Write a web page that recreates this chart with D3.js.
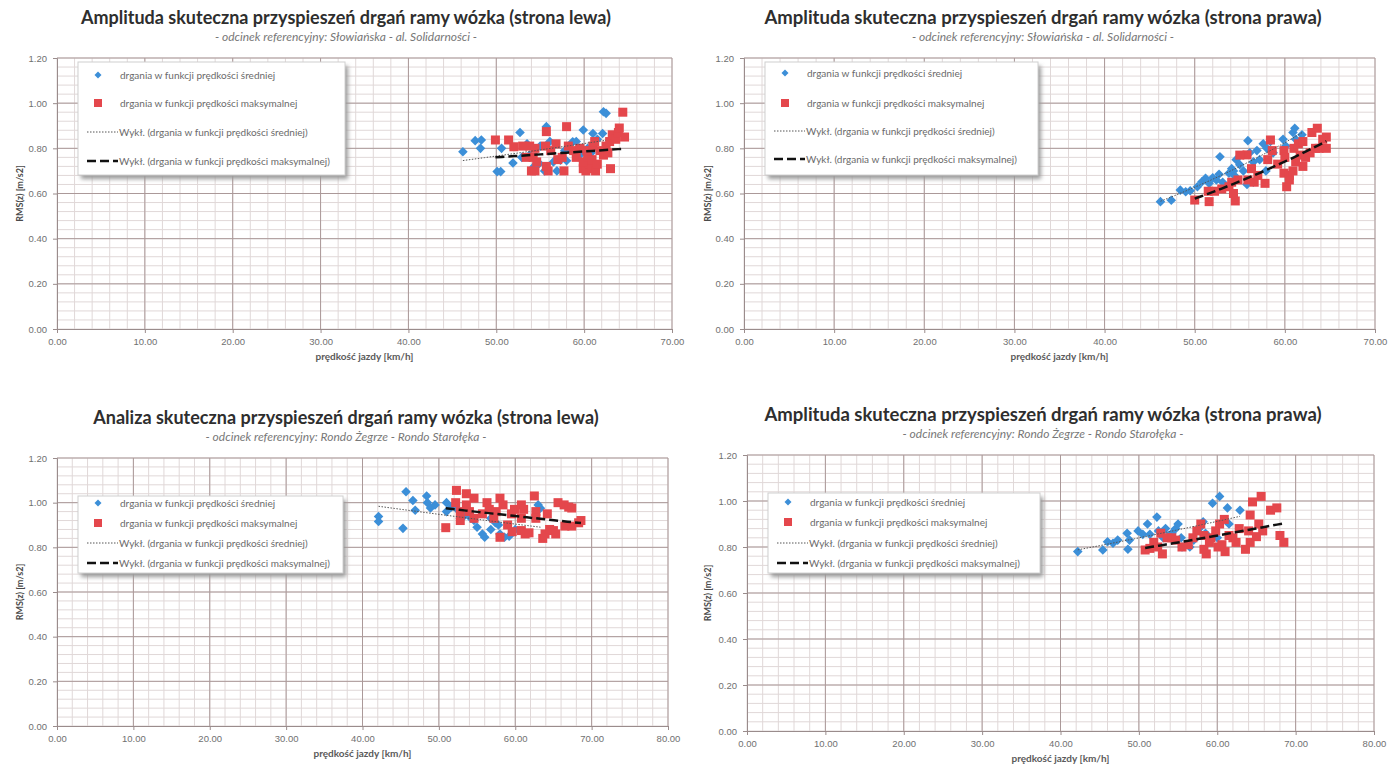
<!DOCTYPE html>
<html>
<head>
<meta charset="utf-8">
<script src="https://cdn.jsdelivr.net/npm/d3@7"></script>
<style>
  body { margin: 0; background: #fff; }
  svg { display: block; font-family: Lato, "Open Sans", sans-serif; }
</style>
</head>
<body>
<svg id="chart" width="1390" height="764"></svg>
<script>
// ---- data: [speed km/h, RMS m/s2] ----
const titles = [
  "Amplituda skuteczna przyspieszeń drgań ramy wózka (strona lewa)",
  "Amplituda skuteczna przyspieszeń drgań ramy wózka (strona prawa)",
  "Analiza skuteczna przyspieszeń drgań ramy wózka (strona lewa)",
  "Amplituda skuteczna przyspieszeń drgań ramy wózka (strona prawa)"
];
const subtitles = [
  "- odcinek referencyjny: Słowiańska - al. Solidarności -",
  "- odcinek referencyjny: Słowiańska - al. Solidarności -",
  "- odcinek referencyjny: Rondo Żegrze - Rondo Starołęka -",
  "- odcinek referencyjny: Rondo Żegrze - Rondo Starołęka -"
];
const seriesNames = [
  "drgania w funkcji prędkości średniej",
  "drgania w funkcji prędkości maksymalnej",
  "Wykł. (drgania w funkcji prędkości średniej)",
  "Wykł. (drgania w funkcji prędkości maksymalnej)"
];
const xTitle = "prędkość jazdy [km/h]";
const yTitle = "RMS(z) [m/s2]";
const xMaxes = [70, 70, 80, 80];
const yTicks = [0, 0.2, 0.4, 0.6, 0.8, 1.0, 1.2];

const p1Avg = [[46.2,0.785],[47.6,0.834],[48.3,0.837],[48.2,0.80],[50.1,0.697],[50.5,0.697],[50.6,0.80],[51.9,0.735],
  [52.7,0.87],[52.9,0.76],[53.8,0.77],[54.3,0.72],[54.9,0.733],[55.5,0.70],[55.7,0.896],[56.1,0.83],[56.9,0.70],
  [57.3,0.748],[57.8,0.79],[58.3,0.80],[58.7,0.829],[59.1,0.83],[59.5,0.77],[59.9,0.881],[60.4,0.80],[61.0,0.866],
  [61.5,0.84],[62.1,0.866],[62.2,0.962],[62.5,0.955],[53.5,0.82],[56.5,0.74],[60.8,0.78],[58.0,0.745],[55.0,0.81]];
const p1Max = [[49.9,0.837],[51.4,0.837],[52.0,0.807],[53.0,0.81],[53.8,0.81],[54.4,0.80],[53.4,0.76],[54.2,0.76],
  [54.6,0.74],[54.0,0.70],[54.4,0.70],[55.7,0.874],[55.6,0.81],[56.2,0.79],[56.8,0.82],[55.9,0.70],[55.7,0.72],
  [57.0,0.75],[57.5,0.76],[57.7,0.70],[58.0,0.896],[58.2,0.81],[58.8,0.79],[59.1,0.76],[59.9,0.71],[60.2,0.70],
  [60.5,0.73],[60.9,0.71],[61.3,0.70],[59.9,0.74],[60.4,0.76],[60.9,0.75],[61.5,0.73],[60.3,0.79],[61.0,0.81],
  [61.8,0.79],[62.5,0.81],[62.9,0.83],[63.2,0.86],[63.6,0.84],[63.9,0.87],[64.0,0.89],[63.0,0.71],[64.4,0.96],
  [62.2,0.77],[62.7,0.78],[59.5,0.80],[61.2,0.83],[64.6,0.85]];

const p2Avg = [[46.2,0.564],[47.4,0.57],[48.4,0.615],[49.0,0.608],[49.5,0.612],[50.3,0.63],[50.8,0.652],[51.2,0.667],
  [51.6,0.645],[52.0,0.67],[52.4,0.66],[52.7,0.685],[53.1,0.65],[52.8,0.763],[53.8,0.69],[54.1,0.71],[54.4,0.68],
  [54.6,0.75],[54.3,0.70],[55.0,0.727],[55.4,0.70],[55.9,0.834],[56.1,0.78],[56.5,0.74],[56.9,0.79],[57.2,0.75],
  [57.6,0.82],[58.0,0.80],[58.4,0.83],[58.7,0.78],[59.8,0.84],[60.1,0.81],[60.9,0.87],[61.2,0.84],[61.9,0.86],
  [61.1,0.889],[55.8,0.64],[56.5,0.65],[57.9,0.70]];
const p2Max = [[50.0,0.571],[51.6,0.564],[51.5,0.61],[52.2,0.61],[54.5,0.567],[53.8,0.63],[54.1,0.65],[54.8,0.66],
  [54.3,0.60],[55.8,0.771],[55.9,0.66],[56.3,0.71],[56.6,0.65],[57.8,0.645],[58.4,0.837],[58.1,0.75],[58.6,0.79],
  [59.2,0.73],[59.9,0.79],[60.0,0.76],[60.2,0.63],[59.9,0.69],[60.5,0.68],[60.9,0.70],[60.5,0.66],[61.0,0.80],
  [61.5,0.82],[62.0,0.83],[61.7,0.77],[62.3,0.76],[62.8,0.78],[63.0,0.87],[63.4,0.80],[63.6,0.889],[63.8,0.80],
  [64.6,0.85],[64.6,0.80],[64.2,0.84],[62.0,0.72],[61.2,0.74],[55.0,0.77],[53.0,0.62],[57.0,0.68]];

const p3Avg = [[42.1,0.938],[42.1,0.916],[45.3,0.885],[45.7,1.049],[46.6,1.01],[46.9,0.966],[48.4,1.03],[48.5,1.0],
  [48.9,0.976],[49.5,0.99],[51.0,1.0],[51.6,0.98],[51.0,0.96],[52.4,0.97],[53.3,0.94],[54.2,0.93],[54.6,0.92],
  [55.0,0.89],[55.7,0.86],[56.0,0.845],[56.8,0.88],[57.4,0.91],[58.0,0.86],[58.6,0.845],[59.2,0.85],[56.8,0.93],
  [52.8,0.93],[63.0,0.99],[63.3,0.975],[60.0,0.88],[57.8,0.90],[54.0,0.95]];
const p3Max = [[50.9,0.888],[52.3,1.055],[52.2,1.0],[52.8,0.92],[52.8,0.96],[53.6,1.04],[53.6,0.99],[54.0,0.96],
  [54.6,0.93],[54.6,1.02],[55.7,0.95],[56.3,1.0],[56.6,0.97],[57.2,0.93],[58.0,1.02],[58.4,0.99],[58.0,0.845],
  [59.0,0.90],[59.5,0.95],[59.9,0.97],[60.8,0.99],[61.1,0.97],[60.8,0.93],[60.8,0.875],[61.3,0.86],[61.8,0.865],
  [62.5,1.03],[62.7,0.96],[62.7,0.93],[63.6,0.84],[63.9,0.86],[64.5,0.88],[64.2,0.95],[65.0,0.875],[65.3,0.86],
  [65.6,1.0],[66.4,0.99],[67.0,0.98],[67.4,0.976],[66.5,0.895],[67.4,0.895],[68.3,0.91],[68.6,0.92],[57.5,0.96],
  [59.6,0.87]];

const p4Avg = [[42.2,0.78],[45.4,0.787],[46.0,0.823],[46.7,0.816],[47.3,0.83],[48.5,0.86],[48.8,0.83],[48.6,0.79],
  [49.9,0.87],[50.5,0.855],[51.1,0.90],[51.4,0.855],[52.3,0.93],[52.5,0.87],[53.1,0.84],[53.4,0.88],[53.8,0.85],
  [54.7,0.88],[55.0,0.90],[55.4,0.84],[55.5,0.80],[56.5,0.80],[57.7,0.88],[58.2,0.91],[58.5,0.86],[59.4,0.99],
  [60.0,0.84],[60.3,1.02],[61.3,0.97],[61.5,0.90],[62.9,0.96],[57.0,0.83],[54.2,0.86]];
const p4Max = [[50.8,0.787],[51.4,0.794],[51.9,0.82],[52.4,0.80],[53.0,0.77],[52.8,0.86],[53.6,0.84],[54.2,0.84],
  [54.7,0.83],[55.5,0.80],[56.3,0.81],[56.9,0.84],[57.4,0.87],[57.9,0.90],[58.3,0.85],[58.3,0.79],[58.6,0.77],
  [59.2,0.84],[59.8,0.87],[60.3,0.90],[60.1,0.80],[60.6,0.81],[60.9,0.92],[61.5,0.85],[62.0,0.84],[62.4,0.82],
  [64.2,0.939],[64.5,0.996],[64.0,0.87],[64.2,0.82],[63.6,0.79],[65.6,1.02],[65.3,0.90],[65.8,0.87],[66.8,0.96],
  [67.6,0.97],[68.0,0.85],[68.5,0.82],[65.0,0.845],[62.8,0.88],[61.0,0.78],[59.0,0.82]];

const avgData = [p1Avg, p2Avg, p3Avg, p4Avg];
const maxData = [p1Max, p2Max, p3Max, p4Max];

// ---- layout of the four panels (pixels) ----
const layout = [
  {l: 57, r: 672, t: 58, b: 329, tx: 346, ty: 24, sy: 41, tsize: 18, yt: 20, leg: {x: 78, y: 62, w: 267, h: 113, rows: [75, 103, 132, 161]}},
  {l: 744, r: 1375, t: 58, b: 329, tx: 1043, ty: 24, sy: 41, tsize: 18.5, yt: 708, leg: {x: 765, y: 62, w: 273, h: 113, rows: [73, 103, 131, 159]}},
  {l: 57, r: 668, t: 458, b: 726, tx: 346, ty: 424, sy: 441, tsize: 18, yt: 20, leg: {x: 78, y: 496, w: 265, h: 77, rows: [503, 523, 543, 563]}},
  {l: 747, r: 1374, t: 455, b: 731, tx: 1043, ty: 421, sy: 438, tsize: 18.5, yt: 708, leg: {x: 768, y: 493, w: 272, h: 80, rows: [502, 522, 543, 563]}}
];

const blue = "#3c8fd8", red = "#e4474c";
const majorCol = "#ab9999", minorCol = "#e0d8d8";

const svg = d3.select("#chart");
const defs = svg.append("defs");
defs.append("filter").attr("id", "shadow").attr("x", "-10%").attr("y", "-10%").attr("width", "130%").attr("height", "140%")
  .append("feGaussianBlur").attr("stdDeviation", 2);

// exponential trend y = a*exp(b*x), least squares on ln(y)
function expFit(pts) {
  let n = pts.length, sx = 0, sy = 0, sxx = 0, sxy = 0;
  pts.forEach(([x, y]) => { let ly = Math.log(y); sx += x; sy += ly; sxx += x * x; sxy += x * ly; });
  let b = (n * sxy - sx * sy) / (n * sxx - sx * sx);
  let a = Math.exp((sy - b * sx) / n);
  let ext = d3.extent(pts, d => d[0]);
  return d3.range(0, 21).map(i => {
    let xv = ext[0] + (ext[1] - ext[0]) * i / 20;
    return [xv, a * Math.exp(b * xv)];
  });
}

// excel-like diamond: a square turned 45 degrees
const diamond = r => `M0,${-r}L${r},0L0,${r}L${-r},0Z`;

function drawPanel(i) {
  let L = layout[i];
  let g = svg.append("g");
  let x = d3.scaleLinear().domain([0, xMaxes[i]]).range([L.l, L.r]);
  let y = d3.scaleLinear().domain([0, 1.2]).range([L.b, L.t]);

  // minor grid
  g.selectAll(".vmin").data(d3.range(0, xMaxes[i] + 0.01, 2)).enter().append("line")
    .attr("x1", d => x(d)).attr("x2", d => x(d)).attr("y1", L.t).attr("y2", L.b)
    .attr("stroke", minorCol).attr("stroke-width", 1);
  g.selectAll(".hmin").data(d3.range(0, 1.2001, 0.04)).enter().append("line")
    .attr("y1", d => y(d)).attr("y2", d => y(d)).attr("x1", L.l).attr("x2", L.r)
    .attr("stroke", minorCol).attr("stroke-width", 1);
  // major grid
  g.selectAll(".vmaj").data(d3.range(10, xMaxes[i] + 0.01, 10)).enter().append("line")
    .attr("x1", d => x(d)).attr("x2", d => x(d)).attr("y1", L.t).attr("y2", L.b)
    .attr("stroke", majorCol).attr("stroke-width", 1);
  g.selectAll(".hmaj").data(yTicks.slice(1)).enter().append("line")
    .attr("y1", d => y(d)).attr("y2", d => y(d)).attr("x1", L.l).attr("x2", L.r)
    .attr("stroke", majorCol).attr("stroke-width", 1);

  // axes
  let xAxis = d3.axisBottom(x).tickValues(d3.range(0, xMaxes[i] + 0.01, 10))
    .tickFormat(d3.format(".2f")).tickSize(4).tickPadding(5);
  let yAxis = d3.axisLeft(y).tickValues(yTicks).tickFormat(d3.format(".2f")).tickSize(4).tickPadding(6);
  let gx = g.append("g").attr("transform", `translate(0,${L.b})`).call(xAxis);
  let gy = g.append("g").attr("transform", `translate(${L.l},0)`).call(yAxis);
  [gx, gy].forEach(a => {
    a.select(".domain").attr("stroke", "#9a8c8c");
    a.selectAll(".tick line").attr("stroke", "#9a8c8c");
    a.selectAll("text").attr("fill", "#707070").style("font-size", "9.5px");
  });

  // axis titles
  g.append("text").attr("x", (L.l + L.r) / 2).attr("y", L.b + 31).attr("text-anchor", "middle")
    .style("font-size", "10px").style("font-weight", "bold").attr("fill", "#5a5a5a").text(xTitle);
  g.append("text").attr("transform", `translate(${L.yt},${(L.t + L.b) / 2}) rotate(-90)`)
    .attr("text-anchor", "middle").attr("dy", "0.35em")
    .style("font-size", "9px").style("font-weight", "bold").attr("fill", "#4a4a4a").text(yTitle);

  // titles
  g.append("text").attr("x", L.tx).attr("y", L.ty).attr("text-anchor", "middle")
    .style("font-size", L.tsize + "px").style("font-weight", "bold").attr("fill", "#2e2e2e").text(titles[i]);
  g.append("text").attr("x", L.tx).attr("y", L.sy).attr("text-anchor", "middle")
    .style("font-size", "12px").style("font-style", "italic").attr("fill", "#777").text(subtitles[i]);

  // points
  g.selectAll(".avg").data(avgData[i]).enter().append("path")
    .attr("d", diamond(4.8)).attr("transform", d => `translate(${x(d[0])},${y(d[1])})`)
    .attr("fill", blue);
  g.selectAll(".max").data(maxData[i]).enter().append("rect")
    .attr("x", d => x(d[0]) - 4.5).attr("y", d => y(d[1]) - 4.5).attr("width", 9).attr("height", 9)
    .attr("fill", red);

  // trend lines
  let line = d3.line().x(d => x(d[0])).y(d => y(d[1]));
  g.append("path").attr("d", line(expFit(avgData[i]))).attr("fill", "none")
    .attr("stroke", "#555").attr("stroke-width", 1).attr("stroke-dasharray", "1.5,1.5");
  g.append("path").attr("d", line(expFit(maxData[i]))).attr("fill", "none")
    .attr("stroke", "#111").attr("stroke-width", 2.5).attr("stroke-dasharray", "9,4");

  // legend
  let lg = L.leg;
  g.append("rect").attr("x", lg.x + 3).attr("y", lg.y + 4).attr("width", lg.w).attr("height", lg.h)
    .attr("fill", "#9a9a9a").attr("filter", "url(#shadow)");
  g.append("rect").attr("x", lg.x).attr("y", lg.y).attr("width", lg.w).attr("height", lg.h)
    .attr("fill", "#fff").attr("stroke", "#d0d0d0");
  let mx = lg.x + 20, tx = lg.x + 42;
  g.append("path").attr("d", diamond(3.5))
    .attr("transform", `translate(${mx},${lg.rows[0]})`).attr("fill", blue);
  g.append("rect").attr("x", mx - 4).attr("y", lg.rows[1] - 4).attr("width", 8).attr("height", 8).attr("fill", red);
  g.append("line").attr("x1", lg.x + 9).attr("x2", tx - 2).attr("y1", lg.rows[2]).attr("y2", lg.rows[2])
    .attr("stroke", "#555").attr("stroke-width", 1).attr("stroke-dasharray", "1.5,1.5");
  g.append("line").attr("x1", lg.x + 9).attr("x2", tx - 2).attr("y1", lg.rows[3]).attr("y2", lg.rows[3])
    .attr("stroke", "#111").attr("stroke-width", 2.5).attr("stroke-dasharray", "9,4");
  seriesNames.forEach((s, k) => {
    g.append("text").attr("x", k < 2 ? tx : tx - 1).attr("y", lg.rows[k]).attr("dy", "0.35em")
      .style("font-size", "10px").attr("fill", "#6a6a6a").text(s);
  });
}

d3.range(4).forEach(drawPanel);
</script>
</body>
</html>
